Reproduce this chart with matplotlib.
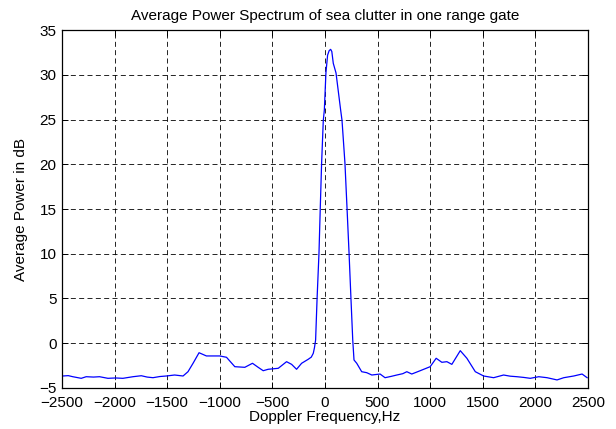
import numpy as np
import matplotlib.pyplot as plt

# --- data ---
freq_hz = [-2492, -2440, -2397, -2317, -2270, -2200, -2143, -2063, -1990, -1921,
           -1825, -1746, -1690, -1635, -1570, -1508, -1429, -1349, -1302, -1254,
           -1197, -1160, -1127, -1000, -936, -857, -762, -689, -635, -587,
           -540, -444, -365, -317, -270, -222, -159, -130, -111, -100,
           -89, -75, -57, -45, -32, -16, -6, 9, 25, 40,
           54, 65, 79, 105, 149, 162, 190, 210, 229, 247,
           264, 276, 302, 349, 397, 445, 524, 571, 630, 683,
           740, 778, 825, 905, 1000, 1057, 1111, 1159, 1206, 1286,
           1349, 1429, 1508, 1603, 1698, 1760, 1825, 1890, 1952, 2032,
           2111, 2206, 2270, 2365, 2444, 2492]
power_db = [-3.66, -3.62, -3.74, -3.92, -3.74, -3.78, -3.74, -3.92, -3.88, -3.92,
            -3.74, -3.63, -3.78, -3.85, -3.72, -3.66, -3.55, -3.66, -3.18, -2.24,
            -1.06, -1.25, -1.42, -1.42, -1.57, -2.62, -2.69, -2.24, -2.69, -3.07,
            -2.91, -2.8, -2.06, -2.36, -2.91, -2.24, -1.79, -1.55, -1.12, -0.5,
            0.36, 5.0, 10.05, 15.0, 20.1, 24.9, 26.06, 30.2, 32.2, 32.7,
            32.84, 32.6, 31.28, 30.2, 26.06, 24.9, 20.1, 15.0, 10.05, 5.0,
            0.36, -1.87, -2.24, -3.18, -3.29, -3.55, -3.44, -3.85, -3.7, -3.55,
            -3.4, -3.18, -3.44, -3.07, -2.62, -1.68, -2.13, -2.06, -2.36, -0.83,
            -1.68, -3.18, -3.66, -3.85, -3.55, -3.68, -3.74, -3.82, -3.92, -3.74,
            -3.85, -4.1, -3.85, -3.66, -3.44, -3.85]

xticks = np.arange(-2500, 2501, 500)
yticks = np.arange(-5, 36, 5)

plt.rcParams['font.family'] = ['Liberation Sans', 'DejaVu Sans']
plt.rcParams['font.size'] = 11

fig = plt.figure(figsize=(6.16, 4.29), dpi=100)
ax = fig.add_axes([0.1006, 0.0956, 0.8539, 0.8344])
ax.plot(freq_hz, power_db, color='blue', lw=0.9)

ax.set_xlim(-2500, 2500)
ax.set_ylim(-5, 35)
ax.set_xticks(xticks)
ax.set_yticks(yticks)
ax.grid(True, color='black', linestyle=(0, (6, 4)), linewidth=0.6)
ax.tick_params(direction='in', top=True, right=True, length=4, width=0.7)
ax.tick_params(axis='x', pad=6)
ax.tick_params(axis='y', pad=4)
for s in ax.spines.values():
    s.set_linewidth(0.9)

ax.set_title("Average Power Spectrum of sea clutter in one range gate", fontsize=11, pad=7)
ax.set_xlabel("Doppler Frequency,Hz", labelpad=0)
ax.set_ylabel("Average Power in dB", labelpad=8)

fig.savefig("out.png", dpi=100)
